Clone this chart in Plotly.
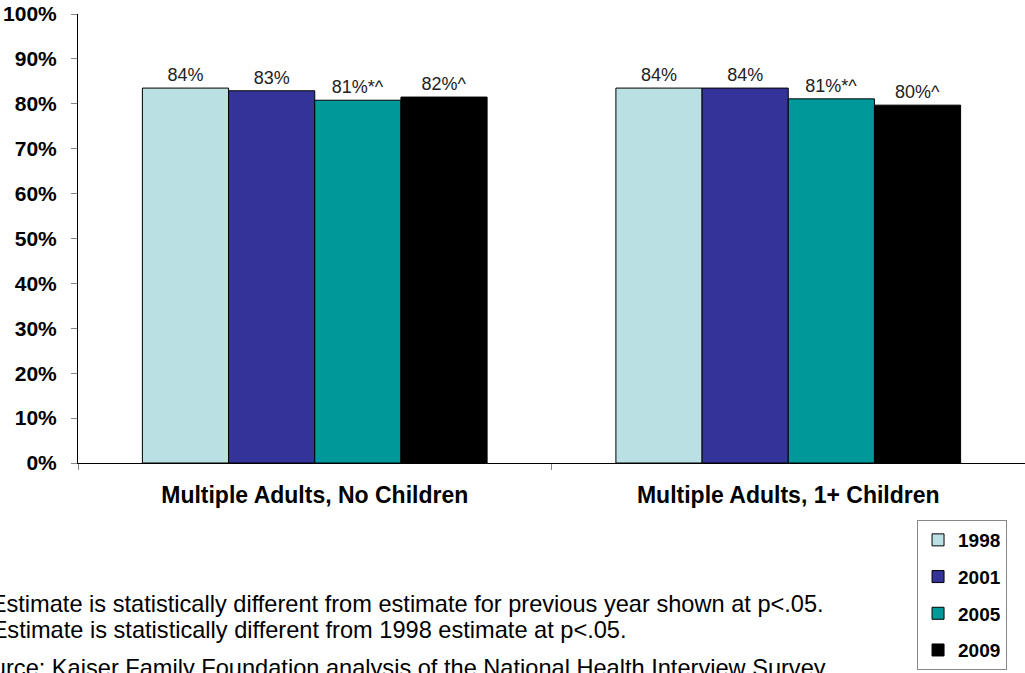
import plotly.graph_objects as go

# Share of people covered, by household type and survey year
categories = ["Multiple Adults, No Children", "Multiple Adults, 1+ Children"]
years = ["1998", "2001", "2005", "2009"]
values = {
    "1998": [83.5, 83.5],
    "2001": [82.9, 83.5],
    "2005": [80.8, 81.1],
    "2009": [81.5, 79.7],
}
# significance markers appended to each value label
markers = {
    "1998": ["", ""],
    "2001": ["", ""],
    "2005": ["*^", "*^"],
    "2009": ["^", "^"],
}
colors = {"1998": "#BBE0E3", "2001": "#333399", "2005": "#009999", "2009": "#000000"}

FONT = "Liberation Sans, Arial, sans-serif"

fig = go.Figure()
for yr in years:
    fig.add_trace(go.Bar(
        name=yr,
        x=categories,
        y=values[yr],
        marker=dict(color=colors[yr], line=dict(color="#000000", width=1)),
        text=markers[yr],
        texttemplate="%{y:.0f}%%{text}",
        textposition="outside",
        textfont=dict(family=FONT, size=18, color="#222222"),
        cliponaxis=False,
        legendgroup=yr,
    ))

fig.update_layout(
    width=1025, height=673,
    margin=dict(l=78, r=0, t=14, b=210),
    paper_bgcolor="white", plot_bgcolor="white",
    barmode="group", bargap=0.272, bargroupgap=0,
    font=dict(family=FONT, color="#000000"),
    showlegend=True,
    legend=dict(
        x=0.886, y=-0.127, xanchor="left", yanchor="top",
        bordercolor="#888888", borderwidth=1,
        font=dict(family=FONT, size=19, weight="bold"),
        tracegroupgap=9, traceorder="grouped",
        itemwidth=30,
    ),
)

fig.update_yaxes(
    range=[0, 100], dtick=10, ticksuffix="%",
    showgrid=False, zeroline=False, automargin=False,
    showline=True, linecolor="#000000", linewidth=1,
    ticks="outside", ticklen=6, tickcolor="#888888",
    ticklabelstandoff=10,
    tickfont=dict(family=FONT, size=21, weight="bold"),
)
fig.update_xaxes(
    showline=True, linecolor="#000000", linewidth=1, automargin=False,
    ticks="outside", ticklen=6, tickcolor="#888888", tickson="boundaries",
    ticklabelstandoff=11,
    tickfont=dict(family=FONT, size=23, weight="bold"),
)

# footnotes, right-aligned where each line ends
notes = [
    ("* Estimate is statistically different from estimate for previous year shown at p<.05.", 0.790, -0.314),
    ("^ Estimate is statistically different from 1998 estimate at p<.05.", 0.582, -0.372),
    ("Source: Kaiser Family Foundation analysis of the National Health Interview Survey.", 0.796, -0.456),
]
for txt, xp, yp in notes:
    fig.add_annotation(
        text=txt, xref="paper", yref="paper", x=xp, y=yp,
        xanchor="right", yanchor="middle", showarrow=False,
        font=dict(family=FONT, size=23.6, color="#000000"),
    )

fig.write_html("out.html")
